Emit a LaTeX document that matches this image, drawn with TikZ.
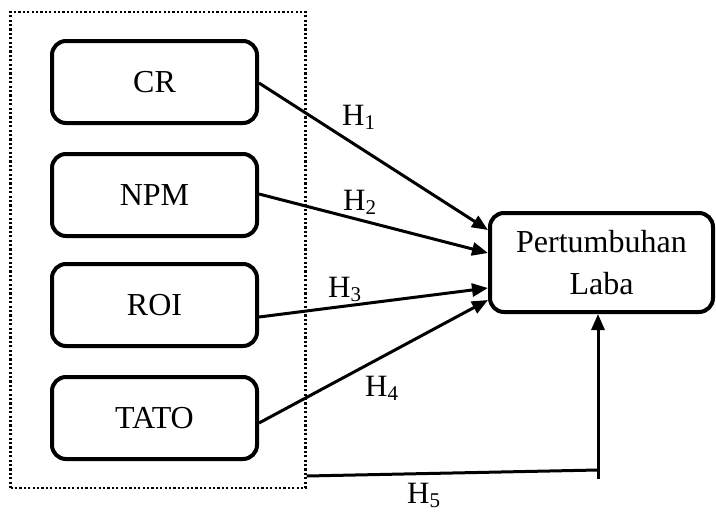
\documentclass[tikz,border=0pt]{standalone}
\usepackage{fontspec}
\setmainfont{Liberation Serif}
\usetikzlibrary{arrows.meta}
\newcommand\hlab[1]{H\raisebox{-0.13em}{\fontsize{21}{21}\selectfont #1}}
\begin{document}
\begin{tikzpicture}[x=1pt,y=-1pt,
  varbox/.style={draw,line width=4pt,rounded corners=14pt,minimum width=205pt,minimum height=82pt,inner sep=0pt,font=\fontsize{32}{34}\selectfont},
  dotbox/.style={draw,line width=2.2pt,dash pattern=on 2.2pt off 2.2pt,minimum width=295pt,minimum height=476pt,inner sep=0pt},
  arr/.style={line width=3pt,-{Triangle[length=16pt,width=13pt]}},
  conn/.style={line width=3pt},
  hl/.style={font=\fontsize{31}{34}\selectfont,inner sep=0pt,anchor=base west}]
\useasboundingbox (0,0) rectangle (716,515);
\node[dotbox] (grp) at (158,250) {};
\node[varbox] (cr) at (154.5,82) {CR};
\node[varbox] (npm) at (154.5,195) {NPM};
\node[varbox] (roi) at (154.5,305) {ROI};
\node[varbox] (tato) at (154.5,418) {TATO};
\node[varbox,minimum width=223pt,minimum height=99pt,align=center,font=\fontsize{32}{42}\selectfont] (pl) at (601.5,262.5) {Pertumbuhan\\Laba};
\coordinate (t1) at (pl.west |- 0,230);
\coordinate (t2) at (pl.west |- 0,253);
\coordinate (t3) at (pl.west |- 0,288);
\coordinate (t4) at (pl.west |- 0,300);
\draw[arr] ([yshift=-1pt]cr.east) -- (t1);
\draw[arr] ([yshift=1pt]npm.east) -- (t2);
\draw[arr] ([yshift=-12pt]roi.east) -- (t3);
\draw[arr] ([yshift=-5pt]tato.east) -- (t4);
\coordinate (h5a) at (grp.east |- 0,476);
\coordinate (h5b) at (598,470);
\coordinate (h5c) at (598,479);
\coordinate (h5d) at ([xshift=-3.5pt]pl.south);
\draw[conn] (h5a) -- (h5b);
\draw[arr] (h5c) -- (h5d);
\node[hl] (l1) at (342,125) {\hlab{1}};
\node[hl] (l2) at (343,210) {\hlab{2}};
\node[hl] (l3) at (328,297) {\hlab{3}};
\node[hl] (l4) at (365,396) {\hlab{4}};
\node[hl] (l5) at (407,503) {\hlab{5}};
\end{tikzpicture}
\end{document}
